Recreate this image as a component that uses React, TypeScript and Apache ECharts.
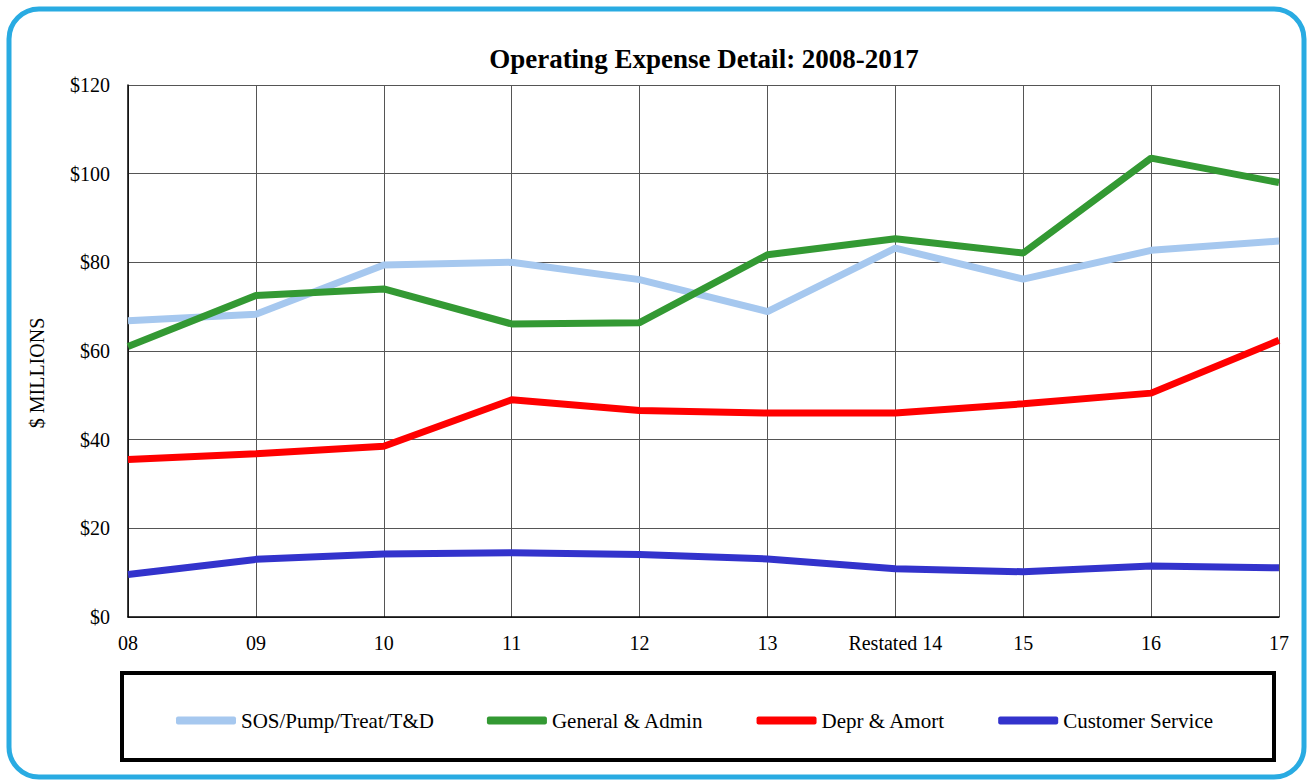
import React, { useEffect, useRef } from "react";
import * as echarts from "echarts";

const categories = ["08", "09", "10", "11", "12", "13", "Restated 14", "15", "16", "17"];
const sosPump = [66.8, 68.3, 79.4, 80.0, 76.1, 68.9, 83.2, 76.2, 82.7, 84.8];
const generalAdmin = [61.0, 72.5, 74.0, 66.1, 66.4, 81.7, 85.3, 82.1, 103.5, 98.0];
const deprAmort = [35.5, 36.8, 38.5, 49.0, 46.6, 46.0, 46.0, 48.1, 50.5, 62.4];
const customerService = [9.6, 13.0, 14.2, 14.5, 14.1, 13.1, 10.9, 10.2, 11.5, 11.1];

const seriesNames = ["SOS/Pump/Treat/T&D", "General & Admin", "Depr & Amort", "Customer Service"];
const seriesColors = ["#A6C8EF", "#339933", "#FF0000", "#3333CC"];
const seriesData = [sosPump, generalAdmin, deprAmort, customerService];

const FONT = "Liberation Serif";

export default function App() {
  const ref = useRef<HTMLDivElement>(null);
  useEffect(() => {
    if (!ref.current) return;
    const chart = echarts.init(ref.current, null, { renderer: "svg" });
    chart.setOption({
      animation: false,
      backgroundColor: "#ffffff",
      textStyle: { fontFamily: FONT },
      title: {
        text: "Operating Expense Detail: 2008-2017",
        left: 699,
        top: 40,
        textAlign: "center",
        textStyle: { fontFamily: FONT, fontSize: 27, fontWeight: "bold", color: "#000" },
      },
      grid: { left: 128, right: 35, top: 85, bottom: 167, containLabel: false },
      xAxis: {
        type: "category",
        data: categories,
        boundaryGap: false,
        axisLine: { lineStyle: { color: "#000", width: 1.5 } },
        axisTick: { show: false },
        axisLabel: { fontFamily: FONT, fontSize: 20, color: "#000", margin: 16, interval: 0 },
        splitLine: { show: true, lineStyle: { color: "#555", width: 1 } },
      },
      yAxis: {
        type: "value",
        min: 0,
        max: 120,
        interval: 20,
        axisLine: { show: true, lineStyle: { color: "#000", width: 1.5 } },
        axisTick: { show: false },
        axisLabel: {
          fontFamily: FONT,
          fontSize: 20,
          color: "#000",
          margin: 18,
          formatter: (v: number) => "$" + v,
        },
        splitLine: { show: true, lineStyle: { color: "#555", width: 1 } },
      },
      legend: {
        left: 171,
        top: 705,
        itemWidth: 60,
        itemHeight: 8,
        itemGap: 53,
        itemTextGap: 2,
        icon: "roundRect",
        textStyle: { fontFamily: FONT, fontSize: 21, color: "#000" },
        data: seriesNames.map((name) => ({
          name,
          textStyle: { fontFamily: FONT, fontSize: 21, color: "#000" },
        })),
      },
      graphic: [
        {
          type: "rect",
          shape: { x: 9, y: 9, width: 1295, height: 768, r: 30 },
          style: { fill: "none", stroke: "#29ABE2", lineWidth: 5 },
          silent: true,
          z: -10,
        },
        {
          type: "rect",
          shape: { x: 122, y: 673, width: 1152, height: 87 },
          style: { fill: "none", stroke: "#000", lineWidth: 4 },
          silent: true,
        },
        {
          type: "text",
          x: 37,
          y: 373,
          rotation: Math.PI / 2,
          style: {
            text: "$ MILLIONS",
            fontFamily: FONT,
            fontSize: 20,
            fill: "#000",
            align: "center",
            verticalAlign: "middle",
          },
        },
      ],
      series: seriesNames.map((name, i) => ({
        name,
        type: "line",
        data: seriesData[i],
        symbol: "none",
        color: seriesColors[i],
        lineStyle: { width: 7, color: seriesColors[i] },
        z: 2 + i,
      })),
    });
    return () => chart.dispose();
  }, []);
  return (
    <div
      ref={ref}
      style={{ position: "fixed", left: 0, top: 0, width: 1314, height: 784 }}
    />
  );
}
